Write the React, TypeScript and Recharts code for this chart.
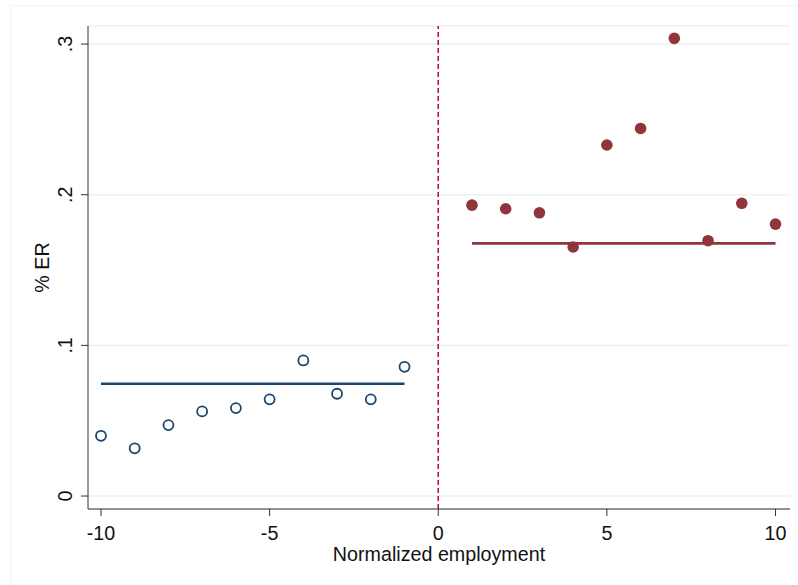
import {
  ComposedChart,
  Scatter,
  Line,
  XAxis,
  YAxis,
  CartesianGrid,
  ReferenceLine,
} from "recharts";

// bins left of the cutoff (hollow markers)
const leftX = [-10, -9, -8, -7, -6, -5, -4, -3, -2, -1];
const leftY = [0.04, 0.0317, 0.0471, 0.0562, 0.0584, 0.0642, 0.09, 0.0679, 0.0642, 0.0858];
// bins right of the cutoff (filled markers)
const rightX = [1, 2, 3, 4, 5, 6, 7, 8, 9, 10];
const rightY = [0.1931, 0.1907, 0.188, 0.1653, 0.233, 0.244, 0.3038, 0.1695, 0.1943, 0.1805];
// fitted means on each side
const leftFitX = [-10, -1];
const leftFitY = [0.0745, 0.0745];
const rightFitX = [1, 10];
const rightFitY = [0.1677, 0.1677];

const xTicks = [-10, -5, 0, 5, 10];
const yTicks = [0, 0.1, 0.2, 0.3];
const yTickLabels = ["0", ".1", ".2", ".3"];

const zip = (xs: number[], ys: number[]) => xs.map((x, i) => ({ x, y: ys[i] }));

const leftData = zip(leftX, leftY);
const rightData = zip(rightX, rightY);
const leftFit = zip(leftFitX, leftFitY);
const rightFit = zip(rightFitX, rightFitY);

const NAVY = "#1a476f";
const MAROON = "#90353b";
const AXIS = "#333333";
const FONT = "'Liberation Sans', Arial, sans-serif";
const FS = 19.7;

const HollowDot = (props: any) => (
  <circle cx={props.cx} cy={props.cy} r={5} fill="#fff" stroke={NAVY} strokeWidth={1.8} />
);
const FilledDot = (props: any) => (
  <circle cx={props.cx} cy={props.cy} r={5.8} fill={MAROON} />
);

const XTick = (props: any) => (
  <text x={props.x} y={props.y + 22} textAnchor="middle" fontSize={FS} fontFamily={FONT} fill="#111">
    {props.payload.value}
  </text>
);

const YTick = (props: any) => {
  const idx = yTicks.indexOf(props.payload.value);
  const label = idx >= 0 ? yTickLabels[idx] : String(props.payload.value);
  const x = 65;
  return (
    <text
      x={x}
      y={props.y}
      transform={`rotate(-90, ${x}, ${props.y})`}
      textAnchor="middle"
      dominantBaseline="central"
      fontSize={FS}
      fontFamily={FONT}
      fill="#111"
    >
      {label}
    </text>
  );
};

export default function App() {
  return (
    <div style={{ position: "absolute", left: 0, top: 0, width: 798, height: 585, background: "#fff" }}>
      <div
        style={{
          position: "absolute",
          left: 10,
          top: 5,
          right: 0,
          bottom: 0,
          borderLeft: "1px solid #f3f3f3",
          borderTop: "1px solid #f3f3f3",
        }}
      />
      <ComposedChart width={798} height={585} margin={{ top: 26, right: 8, left: 0, bottom: 0 }}>
        <CartesianGrid horizontal vertical={false} stroke="#eaf2f3" strokeWidth={1.5} />
        <XAxis
          type="number"
          dataKey="x"
          domain={[-10.385, 10.43]}
          ticks={xTicks}
          height={76}
          tickSize={7}
          stroke={AXIS}
          tickLine={{ stroke: AXIS }}
          tick={<XTick />}
          label={{
            value: "Normalized employment",
            position: "insideBottom",
            offset: 24,
            fontSize: FS,
            fontFamily: FONT,
            fill: "#111",
          }}
        />
        <YAxis
          type="number"
          dataKey="y"
          domain={[-0.0086, 0.312]}
          ticks={yTicks}
          width={88}
          tickSize={7}
          stroke={AXIS}
          tickLine={{ stroke: AXIS }}
          tick={<YTick />}
          label={{
            value: "% ER",
            angle: -90,
            position: "insideLeft",
            offset: 42,
            fontSize: FS,
            fontFamily: FONT,
            fill: "#111",
            style: { textAnchor: "middle" },
          }}
        />
        <ReferenceLine x={0} stroke="#c10534" strokeWidth={1.5} strokeDasharray="5 3" />
        <Line
          data={leftFit}
          dataKey="y"
          type="linear"
          stroke={NAVY}
          strokeWidth={2.6}
          dot={false}
          isAnimationActive={false}
        />
        <Line
          data={rightFit}
          dataKey="y"
          type="linear"
          stroke={MAROON}
          strokeWidth={2.6}
          dot={false}
          isAnimationActive={false}
        />
        <Scatter data={leftData} dataKey="y" shape={<HollowDot />} isAnimationActive={false} />
        <Scatter data={rightData} dataKey="y" shape={<FilledDot />} isAnimationActive={false} />
      </ComposedChart>
    </div>
  );
}
